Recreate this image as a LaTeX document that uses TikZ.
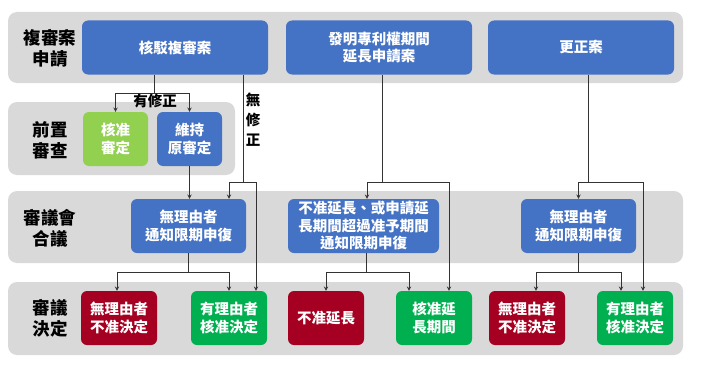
\documentclass[tikz,border=0pt]{standalone}
\usepackage{fontspec}
\setmainfont{Noto Sans CJK TC}
\usepackage{xcolor}
\usetikzlibrary{positioning}
\definecolor{bandgray}{HTML}{D9D9D9}
\definecolor{caseblue}{HTML}{4472C4}
\definecolor{pregreen}{HTML}{92D050}
\definecolor{okgreen}{HTML}{00B050}
\definecolor{nored}{HTML}{A50021}
\definecolor{linegray}{HTML}{333333}

\begin{document}
\begin{tikzpicture}[
  x=1pt, y=-1pt,
  >=stealth,
  band/.style={rectangle, rounded corners=9pt, fill=bandgray, inner sep=0pt},
  bandlabel/.style={align=center, font=\bfseries\fontsize{17.5}{21}\selectfont},
  box/.style={rectangle, rounded corners=6pt, text=white, align=center, inner sep=0pt,
    minimum height=54pt, font=\bfseries\fontsize{14.5}{17.5}\selectfont},
  casebox/.style={box, fill=caseblue, minimum width=186pt},
  bluebox/.style={box, fill=caseblue},
  redbox/.style={box, fill=nored, minimum width=76pt},
  greenbox/.style={box, fill=okgreen, minimum width=76pt},
  link/.style={draw=linegray, line width=0.9pt},
  note/.style={align=center, font=\bfseries\fontsize{14.5}{20}\selectfont}
]
  \useasboundingbox (0,0) rectangle (703,369);

  % bands
  \node[band, minimum width=675pt, minimum height=71pt] (band1) at (345.5,47.5) {};
  \node[band, minimum width=227pt, minimum height=73pt] (band2) at (121.5,138.5) {};
  \node[band, minimum width=675pt, minimum height=72pt] (band3) at (345.5,227) {};
  \node[band, minimum width=675pt, minimum height=73pt] (band4) at (345.5,318.5) {};
  \node[bandlabel] (lab1) at (50,48) {複審案\\申請};
  \node[bandlabel] (lab2) at (50,140) {前置\\審查};
  \node[bandlabel] (lab3) at (50,228) {審議會\\合議};
  \node[bandlabel] (lab4) at (50,318) {審議\\決定};

  % cases
  \node[casebox] (reject) at (175,47.5) {核駁複審案};
  \node[casebox] (extend) at (379,47.5) {發明專利權期間\\延長申請案};
  \node[casebox] (correct) at (581,47.5) {更正案};

  % pre-examination
  \node[box, fill=pregreen, minimum width=65pt] (pregrant) at (115.5,139) {核准\\審定};
  \node[bluebox, minimum width=65pt] (premaintain) at (189.5,139) {維持\\原審定};

  % board
  \node[bluebox, minimum width=115pt] (notice1) at (188.5,226) {無理由者\\通知限期申復};
  \node[bluebox, minimum width=151pt] (notice2) at (363.5,226) {不准延長、或申請延\\長期間超過准予期間\\通知限期申復};
  \node[bluebox, minimum width=115pt] (notice3) at (578.5,226) {無理由者\\通知限期申復};

  % decisions
  \node[redbox] (deny1) at (119,318) {無理由者\\不准決定};
  \node[greenbox] (grant1) at (229,318) {有理由者\\核准決定};
  \node[redbox] (deny2) at (326,318) {不准延長};
  \node[greenbox] (grant2) at (434,318) {核准延\\長期間};
  \node[redbox] (deny3) at (527,318) {無理由者\\不准決定};
  \node[greenbox] (grant3) at (635,318) {有理由者\\核准決定};

  % junctions
  \coordinate (fix) at (154,93);
  \coordinate (nofix) at (243,182);
  \coordinate (fork2) at (382,182);
  \coordinate (fork3) at (588,182);
  \coordinate (split1) at (188.5,272);
  \coordinate (split2) at (366,272);
  \coordinate (split3) at (578,272);

  \draw[link] (reject.south -| fix) -- (fix);
  \draw[link, ->] (fix) -| (pregrant.north);
  \draw[link, ->] (fix) -| (premaintain.north);
  \node[note] (fixlabel) at (155,101) {有修正};

  \draw[link] (reject.south -| nofix) -- (nofix);
  \draw[link, ->] (nofix) -| ([xshift=40.5pt]notice1.north);
  \draw[link, ->] (nofix) -| ([xshift=27pt]grant1.north);
  \node[note] (nofixlabel) at (253,120) {無\\修\\正};

  \draw[link, ->] (premaintain.south) -- (premaintain.south |- notice1.north);
  \draw[link] (notice1.south) -- (split1);
  \draw[link, ->] (split1) -| ([xshift=-2pt]deny1.north);
  \draw[link, ->] (split1) -| (grant1.north);

  \draw[link] (extend.south -| fork2) -- (fork2);
  \draw[link, ->] (fork2) -| ([xshift=3.5pt]notice2.north);
  \draw[link, ->] (fork2) -| ([xshift=15pt]grant2.north);
  \draw[link] (notice2.south -| split2) -- (split2);
  \draw[link, ->] (split2) -| (deny2.north);
  \draw[link, ->] (split2) -| ([xshift=-25pt]grant2.north);

  \draw[link] (correct.south -| fork3) -- (fork3);
  \draw[link, ->] (fork3) -| (notice3.north);
  \draw[link, ->] (fork3) -| ([xshift=8pt]grant3.north);
  \draw[link] (notice3.south -| split3) -- (split3);
  \draw[link, ->] (split3) -| ([xshift=9pt]deny3.north);
  \draw[link, ->] (split3) -| ([xshift=-14pt]grant3.north);
\end{tikzpicture}
\end{document}
